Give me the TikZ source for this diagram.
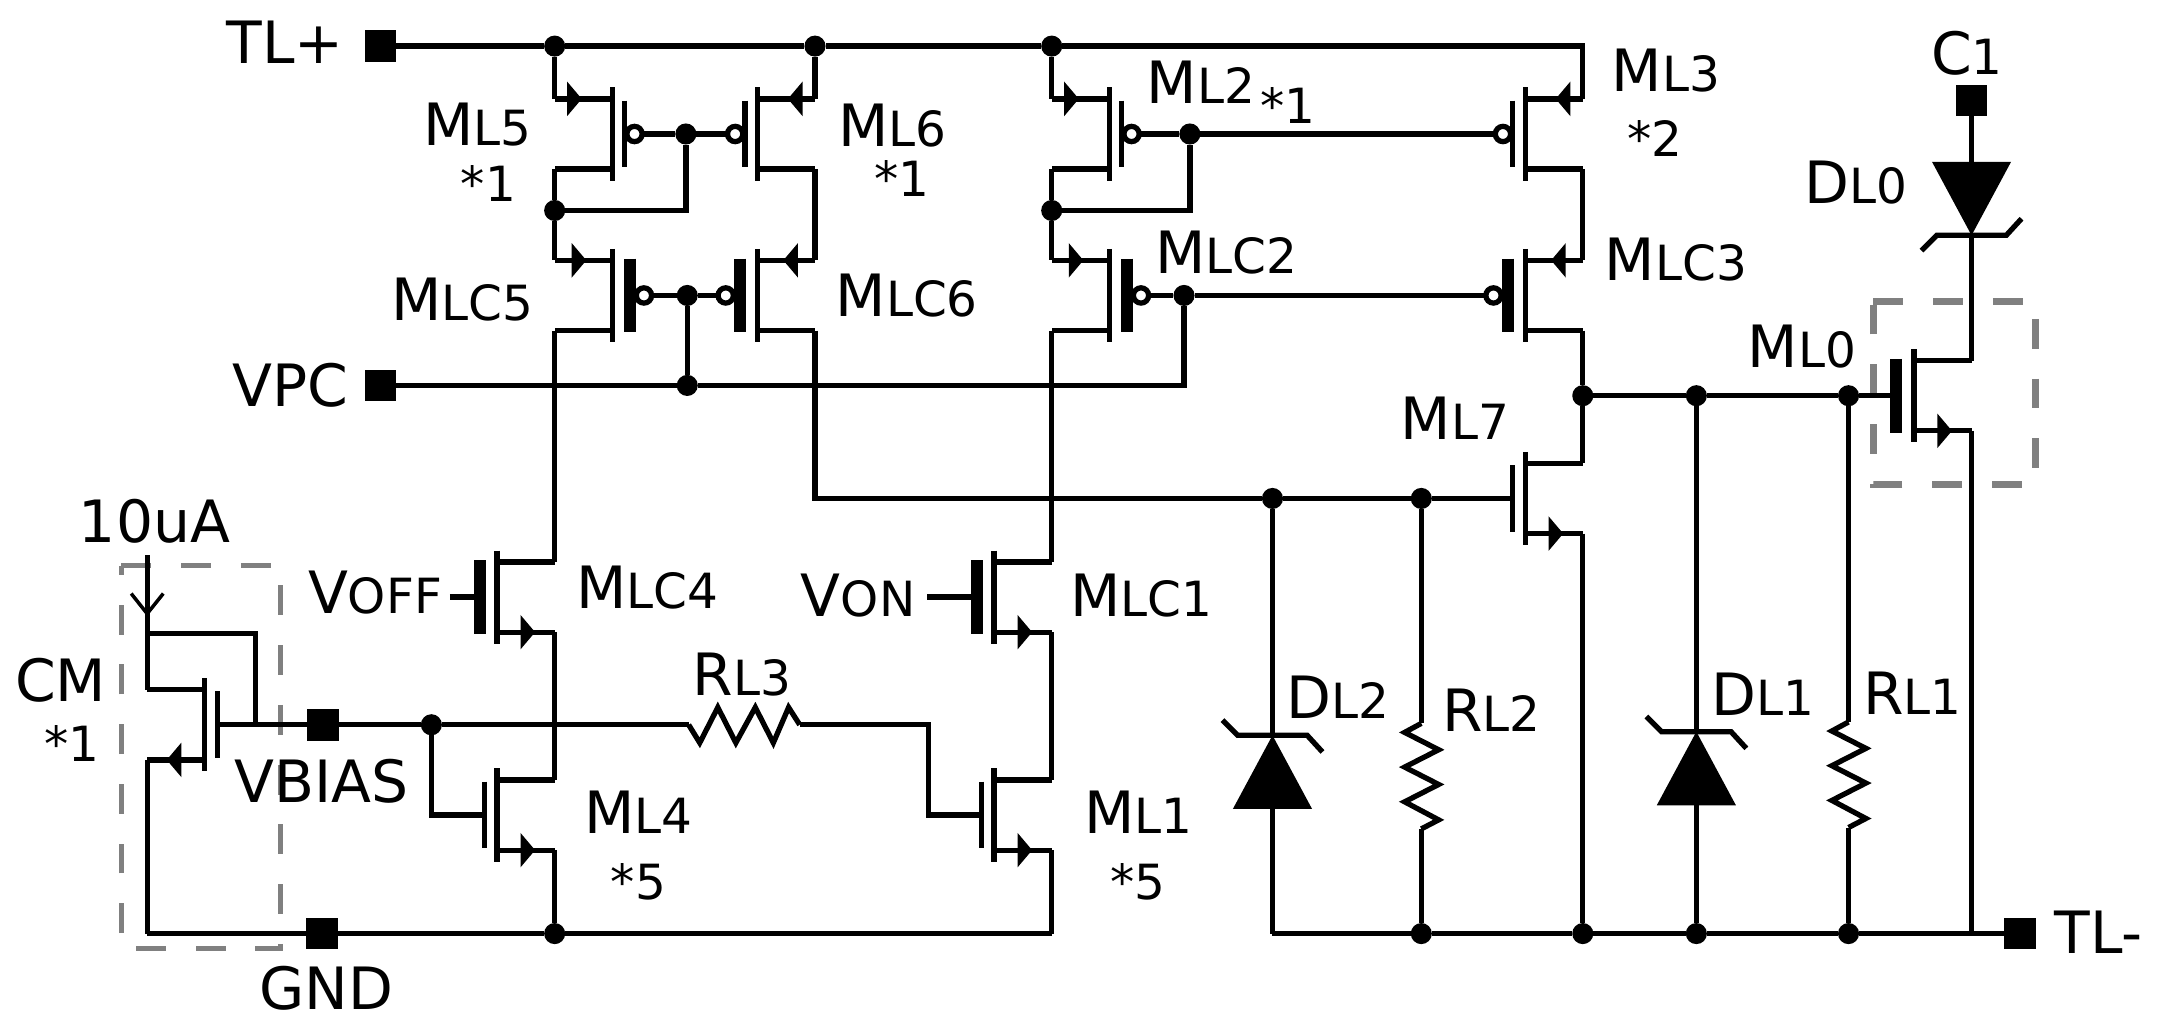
\documentclass[tikz,border=0pt]{standalone}
\usepackage{fontspec}
\setmainfont{DejaVu Sans}
\newcommand{\bigfnt}{\fontsize{16.6}{18}\selectfont}
\newcommand{\lowfnt}{\fontsize{13.8}{15}\selectfont}
\newcommand{\lowtxt}[1]{{\lowfnt #1}}
\tikzset{
  wire/.style={line width=1.5pt},
  junc/.style={circle,fill,inner sep=0pt,outer sep=0pt,minimum size=6pt},
  term/.style={rectangle,fill,inner sep=0pt,outer sep=0pt,minimum size=9pt},
  lbl/.style={anchor=base west,inner sep=0pt,font=\bigfnt},
  lbllow/.style={anchor=base west,inner sep=0pt,font=\lowfnt},
  dbox/.style={draw=black!50,dash pattern=on 8.5pt off 8.5pt},
}
% name, position, side of the source/drain, p=1 n=0, thick gate=1
\newcommand{\mosfet}[5]{
  \begin{scope}[shift={#2},xscale=#3]
    \ifnum#5=1
      \def\baroff{12.6}\def\barhalf{26.5}\def\barw{3.4pt}\def\bubx{22.8}\def\tipx{18.7}
    \else
      \def\baroff{9}\def\barhalf{24}\def\barw{1.5pt}\def\bubx{16}\def\tipx{22}
    \fi
    \coordinate (#1-t) at (41.5,-25.3);
    \coordinate (#1-b) at (41.5,25.3);
    \draw (0,-33.5) -- (0,33.5);
    \draw[line width=\barw] (-\baroff,-\barhalf) -- (-\baroff,\barhalf);
    \draw (0,-25.3) -- (#1-t);
    \draw (0,25.3) -- (#1-b);
    \ifnum#4=1
      \coordinate (#1-g) at (-\bubx-5.5,0);
      \draw[fill=white] (-\bubx,0) circle [radius=5.5];
      \fill (\tipx,-25.3) -- (\tipx+10.5,-37.7) -- (\tipx+10.5,-12.9) -- cycle;
    \else
      \coordinate (#1-g) at (-\baroff,0);
      \fill (27.4,25.3) -- (16.9,12.9) -- (16.9,37.7) -- cycle;
    \fi
  \end{scope}
}
% name, tip position, direction
\newcommand{\zener}[3]{
  \begin{scope}[shift={#2},yscale=#3]
    \coordinate (#1-k) at (0,0);
    \coordinate (#1-a) at (0,53);
    \fill (#1-k) -- (-28.5,53) -- (28.5,53) -- cycle;
    \draw (-36,-11) -- (-25,0) -- (25,0) -- (36,12);
  \end{scope}
}
% name, top position
\newcommand{\vres}[2]{
  \begin{scope}[shift={#2}]
    \coordinate (#1-t) at (0,0);
    \coordinate (#1-b) at (0,76);
    \draw (#1-t) -- (-12,6.5) -- (12.5,19) -- (-12,31.5) -- (12.5,44) -- (-12,56.5) -- (12.5,69.5) -- (#1-b);
  \end{scope}
}

\begin{document}
\begin{tikzpicture}[x=0.01388cm,y=-0.01388cm,wire]
    \useasboundingbox (0,0) rectangle (1568,737);

    % dashed boxes
    \draw[dbox,line width=1.35pt] (87.5,407.3) -- (202.2,407.3) -- (202.2,683.2) -- (87.5,683.2) -- cycle;
    \draw[dbox,line width=1.8pt] (1349.3,217.2) -- (1466,217.2) -- (1466,349) -- (1349.3,349) -- cycle;

    % transistors
    \mosfet{mlfive}{(441,96.5)}{-1}{1}{0}
    \mosfet{mlsix}{(545.5,96.5)}{1}{1}{0}
    \mosfet{mltwo}{(799,96.5)}{-1}{1}{0}
    \mosfet{mlthree}{(1098.5,96.5)}{1}{1}{0}
    \mosfet{mlcfive}{(441,212.8)}{-1}{1}{1}
    \mosfet{mlcsix}{(545.5,212.8)}{1}{1}{1}
    \mosfet{mlctwo}{(799,212.8)}{-1}{1}{1}
    \mosfet{mlcthree}{(1098.5,212.8)}{1}{1}{1}
    \mosfet{mlseven}{(1098.5,359)}{1}{0}{0}
    \mosfet{mlzero}{(1378.5,285)}{1}{0}{1}
    \mosfet{mlcfour}{(358,430)}{1}{0}{1}
    \mosfet{mlfour}{(358,587)}{1}{0}{0}
    \mosfet{mlcone}{(716,430)}{1}{0}{1}
    \mosfet{mlone}{(716,587)}{1}{0}{0}
    \mosfet{cm}{(147.5,522)}{-1}{0}{0}

    % diodes and resistors
    \zener{dlzero}{(1420,169.5)}{-1}
    \zener{dltwo}{(916.5,529.6)}{1}
    \zener{dlone}{(1221.8,527)}{1}
    \vres{rltwo}{(1023.7,521)}
    \vres{rlone}{(1331.4,520)}

    % terminals
    \node[term] (tlp) at (274,33.2) {};
    \node[term] (vpc) at (274,277.6) {};
    \node[term] (cone) at (1420,72.3) {};
    \node[term] (vbias) at (232.8,522) {};
    \node[term] (gnd) at (231.7,672.4) {};
    \node[term] (tlm) at (1455,672.4) {};

    % junctions
    \node[junc] (jtop1) at (399.5,33.2) {};
    \node[junc] (jtop2) at (587,33.2) {};
    \node[junc] (jtop3) at (757.5,33.2) {};
    \node[junc] (jmid5) at (399.5,151.6) {};
    \node[junc] (jmid2) at (757.5,151.6) {};
    \node[junc] (jgate5) at (494,96.5) {};
    \node[junc] (jgate2) at (857,96.5) {};
    \node[junc] (jgatec5) at (495,212.8) {};
    \node[junc] (jgatec2) at (852.8,212.8) {};
    \node[junc] (jvpc) at (495,277.6) {};
    \node[junc] (jout) at (1140,285) {};
    \node[junc] (jdone) at (1221.8,285) {};
    \node[junc] (jrone) at (1331.4,285) {};
    \node[junc] (jdtwo) at (916.5,359) {};
    \node[junc] (jrtwo) at (1023.7,359) {};
    \node[junc] (jbias) at (310.7,522) {};
    \node[junc] (jgnd) at (399.5,672.4) {};
    \node[junc] (jb1) at (1023.7,672.4) {};
    \node[junc] (jb2) at (1140,672.4) {};
    \node[junc] (jb3) at (1221.8,672.4) {};
    \node[junc] (jb4) at (1331.4,672.4) {};

    % free ends and corners
    \coordinate (ctop) at (1140,33.2);
    \coordinate (cgndr) at (757.5,672.4);
    \coordinate (cgndl) at (106,672.4);
    \coordinate (cdl2) at (916.5,672.4);
    \coordinate (cml0) at (1420,672.4);
    \coordinate (ciin) at (106,400);
    \coordinate (ciarr) at (106,442);
    \coordinate (cdrn) at (106,456.3);
    \coordinate (ctie) at (183.8,522);
    \coordinate (rlthree-l) at (496,522);
    \coordinate (rlthree-r) at (576,522);
    \coordinate (cr3) at (668.9,522);
    \coordinate (cvoff) at (324,430);
    \coordinate (cvon) at (668,430);

    % draw diagram
    \draw (tlp) -- (jtop1) -- (jtop2) -- (jtop3) -- (ctop) -- (mlthree-t);
    \draw (jtop1) -- (mlfive-t);
    \draw (jtop2) -- (mlsix-t);
    \draw (jtop3) -- (mltwo-t);
    \draw (mlfive-b) -- (jmid5) -- (mlcfive-t);
    \draw (mltwo-b) -- (jmid2) -- (mlctwo-t);
    \draw (mlfive-g) -- (jgate5) -- (mlsix-g);
    \draw (jmid5) -| (jgate5);
    \draw (jmid2) -| (jgate2);
    \draw (mltwo-g) -- (jgate2) -- (mlthree-g);
    \draw (mlsix-b) -- (mlcsix-t);
    \draw (mlthree-b) -- (mlcthree-t);
    \draw (mlcfive-g) -- (jgatec5) -- (mlcsix-g);
    \draw (mlctwo-g) -- (jgatec2) -- (mlcthree-g);
    \draw (jgatec5) -- (jvpc);
    \draw (vpc) -- (jvpc) -| (jgatec2);
    \draw (mlcfive-b) -- (mlcfour-t);
    \draw (mlcfour-b) -- (mlfour-t);
    \draw (mlfour-b) -- (jgnd);
    \draw (mlctwo-b) -- (mlcone-t);
    \draw (mlcone-b) -- (mlone-t);
    \draw (mlone-b) -- (cgndr);
    \draw (mlcsix-b) |- (jdtwo);
    \draw (jdtwo) -- (jrtwo) -- (mlseven-g);
    \draw (mlcthree-b) -- (jout) -- (mlseven-t);
    \draw (jout) -- (jdone) -- (jrone) -- (mlzero-g);
    \draw (mlseven-b) -- (jb2);
    \draw (cone) -- (dlzero-a);
    \draw (dlzero-k) -- (mlzero-t);
    \draw (mlzero-b) -- (cml0);
    \draw (jdtwo) -- (dltwo-k);
    \draw (dltwo-a) -- (cdl2);
    \draw (jrtwo) -- (rltwo-t);
    \draw (rltwo-b) -- (jb1);
    \draw (jdone) -- (dlone-k);
    \draw (dlone-a) -- (jb3);
    \draw (jrone) -- (rlone-t);
    \draw (rlone-b) -- (jb4);
    \draw (cdl2) -- (jb1) -- (jb2) -- (jb3) -- (jb4) -- (cml0) -- (tlm);
    \draw (cgndl) -- (gnd) -- (jgnd) -- (cgndr);
    \draw (cm-b) -- (cgndl);
    \draw (ciin) -- (cdrn) -- (cm-t);
    \draw[line width=1pt] (94.5,427.5) -- (ciarr) -- (117.6,427.5);
    \draw (cm-g) -- (vbias) -- (jbias) -- (rlthree-l);
    \draw (ctie) |- (cdrn);
    \draw (jbias) |- (mlfour-g);
    \draw (rlthree-l) -- ++(8,13) -- ++(13,-25.5) -- ++(13,25.5) -- ++(14,-25.5) -- ++(13,25.5) -- ++(11,-25.5) -- (rlthree-r);
    \draw (rlthree-r) -- (cr3) |- (mlone-g);
    \draw (cvoff) -- (mlcfour-g);
    \draw (cvon) -- (mlcone-g);

    % labels
    \node[lbl] (ltlp) at (161.3,45.6) {TL+};
    \node[lbl] (lvpc) at (165.6,292.5) {VPC};
    \node[lbl] (lml5) at (303,105) {M\lowtxt{L5}};
    \node[lbllow] (lml5n) at (330,145) {*1};
    \node[lbl] (lmlc5) at (280,230.5) {M\lowtxt{LC5}};
    \node[lbl] (lml6) at (602,105.7) {M\lowtxt{L6}};
    \node[lbllow] (lml6n) at (628,141.7) {*1};
    \node[lbl] (lmlc6) at (600,228) {M\lowtxt{LC6}};
    \node[lbl] (lml2) at (824,74.4) {M\lowtxt{L2}};
    \node[lbllow] (lml2n) at (906,88.8) {*1};
    \node[lbl] (lmlc2) at (830,197) {M\lowtxt{LC2}};
    \node[lbl] (lml3) at (1159,65.9) {M\lowtxt{L3}};
    \node[lbllow] (lml3n) at (1170,113) {*2};
    \node[lbl] (lmlc3) at (1154,202) {M\lowtxt{LC3}};
    \node[lbl] (lml7) at (1007,316.8) {M\lowtxt{L7}};
    \node[lbl] (lml0) at (1257,264.5) {M\lowtxt{L0}};
    \node[lbl] (lc1) at (1389,54) {C\lowtxt{1}};
    \node[lbl] (ldl0) at (1298,146.4) {D\lowtxt{L0}};
    \node[lbl] (liin) at (55,391) {10uA};
    \node[lbl] (lcm) at (9,505.5) {CM};
    \node[lbllow] (lcmn) at (30,548.7) {*1};
    \node[lbl] (lvbias) at (167,578) {VBIAS};
    \node[lbl] (lvoff) at (220,442) {V\lowtxt{OFF}};
    \node[lbl] (lmlc4) at (413,438) {M\lowtxt{LC4}};
    \node[lbl] (lml4) at (419,600) {M\lowtxt{L4}};
    \node[lbllow] (lml4n) at (438,648) {*5};
    \node[lbl] (lgnd) at (185,727) {GND};
    \node[lbl] (lrl3) at (497,500.6) {R\lowtxt{L3}};
    \node[lbl] (lvon) at (575,443.8) {V\lowtxt{ON}};
    \node[lbl] (lmlc1) at (769,443.8) {M\lowtxt{LC1}};
    \node[lbl] (lml1) at (779,600.4) {M\lowtxt{L1}};
    \node[lbllow] (lml1n) at (798,648) {*5};
    \node[lbl] (ldl2) at (925,517.5) {D\lowtxt{L2}};
    \node[lbl] (lrl2) at (1037,526.7) {R\lowtxt{L2}};
    \node[lbl] (ldl1) at (1231,515) {D\lowtxt{L1}};
    \node[lbl] (lrl1) at (1340,514.7) {R\lowtxt{L1}};
    \node[lbl] (ltlm) at (1478,687) {TL-};
\end{tikzpicture}
\end{document}
